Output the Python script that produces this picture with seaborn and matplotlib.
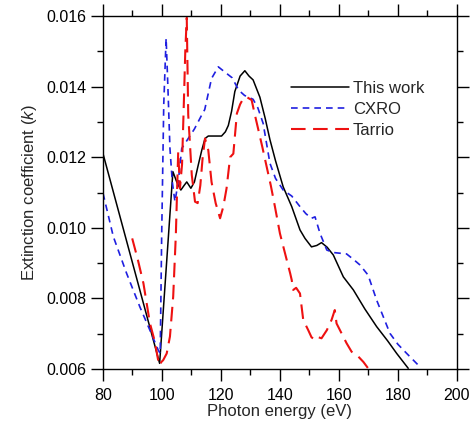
import numpy as np
import pandas as pd
import matplotlib
matplotlib.use("Agg")
import matplotlib.pyplot as plt
from matplotlib.ticker import MultipleLocator, FormatStrFormatter
import seaborn as sns

# Extinction coefficient k versus photon energy (eV)
this_work_e = [80, 99.2, 103.7, 105, 106.4, 107.5, 108.4, 109.8, 111, 112.3, 113.5, 114.6,
               115.7, 118, 120.2, 121.5, 122.5, 123.6, 124.7, 126.5, 128.1, 129.5, 130.9,
               133.2, 135, 136.6, 138.5, 141.1, 144, 146.8, 148.5, 150.7, 152.5, 154.1,
               156, 158.1, 161.5, 164.9, 168.8, 172.8, 176.5, 179.6, 183.5]
this_work_k = [0.0121, 0.00616, 0.01159, 0.0113, 0.01107, 0.0112, 0.0113, 0.01112, 0.0113,
               0.01178, 0.0122, 0.01253, 0.0126, 0.0126, 0.0126, 0.01272, 0.0129, 0.0133,
               0.01386, 0.0143, 0.01445, 0.0143, 0.01419, 0.0137, 0.0131, 0.0125, 0.0119,
               0.01116, 0.0106, 0.00994, 0.0097, 0.00946, 0.0095, 0.00958, 0.00945,
               0.00923, 0.00861, 0.00824, 0.0077, 0.0072, 0.0068, 0.00644, 0.00602]

cxro_e = [80, 83.5, 88, 92.5, 95.9, 98.7, 99.4, 99.9, 100.6, 101.4, 102, 102.7, 103.5,
          104.4, 105.5, 106.7, 108.9, 111, 113.5, 114.5, 116.8, 119.1, 121.5, 123.8, 126,
          128, 130.9, 132.5, 134.3, 136.6, 138.5, 141.1, 144, 146.8, 148.8, 150.7, 151.9,
          153.6, 155.9, 158.1, 162.6, 165, 167.1, 169.9, 172.8, 177.3, 180, 183, 187.5]
cxro_k = [0.01098, 0.00975, 0.00871, 0.00776, 0.0071, 0.00654, 0.00644, 0.0098, 0.0135,
          0.01537, 0.0140, 0.01225, 0.0113, 0.01074, 0.0113, 0.01225, 0.01253, 0.0128,
          0.0132, 0.01335, 0.01423, 0.01456, 0.0144, 0.01425, 0.0139, 0.01375, 0.01364,
          0.0134, 0.01296, 0.01183, 0.0114, 0.01107, 0.0109, 0.0106, 0.0104, 0.01027,
          0.01031, 0.00984, 0.00937, 0.0093, 0.00926, 0.0091, 0.00895, 0.00866, 0.00795,
          0.00701, 0.0067, 0.00644, 0.00606]

tarrio_e = [89.9, 91.8, 93.7, 95.9, 97.5, 98.7, 99.1, 99.8, 100.4, 101.6, 102.7, 103.8,
            104.7, 105.5, 106.1, 106.8, 107.4, 107.9, 108.4, 108.9, 110.1, 111.2, 112.1,
            113.0, 113.8, 114.6, 115.7, 116.8, 118.2, 119.7, 120.8, 121.9, 123.1, 124.2,
            125.4, 126.5, 127.6, 128.8, 130.4, 131.5, 132.7, 134, 135.5, 136.9, 138.3,
            140, 142.3, 143.5, 144, 144.5, 145.5, 146.8, 147.9, 149.6, 150.7, 151.9, 153,
            154.1, 155.9, 157.5, 158.6, 159.2, 160.9, 162.6, 164.3, 166.6, 168.3, 169.9]
tarrio_k = [0.0097, 0.0091, 0.00843, 0.0073, 0.0068, 0.00625, 0.0061, 0.0062, 0.00625,
            0.00644, 0.00692, 0.00805, 0.0098, 0.01216, 0.01112, 0.0118, 0.0135, 0.0150,
            0.01595, 0.0132, 0.0115, 0.01074, 0.0107, 0.0112, 0.0120, 0.01253, 0.0122,
            0.0113, 0.0107, 0.01027, 0.0106, 0.01112, 0.0120, 0.0121, 0.01324, 0.0135,
            0.01367, 0.0137, 0.01362, 0.0132, 0.01277, 0.0123, 0.01173, 0.0112, 0.0106,
            0.00984, 0.00909, 0.0087, 0.00852, 0.00824, 0.0083, 0.00814, 0.00739, 0.0071,
            0.0069, 0.00682, 0.0069, 0.00687, 0.0071, 0.00739, 0.00767, 0.00729, 0.00701,
            0.00673, 0.00649, 0.00635, 0.0062, 0.00602]

series_names = ["This work", "CXRO", "Tarrio"]

sns.set_style("ticks")
plt.rcParams["font.family"] = ["Liberation Sans", "DejaVu Sans"]
plt.rcParams["mathtext.fontset"] = "custom"
plt.rcParams["mathtext.it"] = "Liberation Sans:italic"
plt.rcParams["mathtext.rm"] = "Liberation Sans"

fig = plt.figure(figsize=(4.71, 4.26), dpi=100)
ax = fig.add_axes([0.2187, 0.1338, 0.970 - 0.2187, 0.9624 - 0.1338])

frames = [
    pd.DataFrame({"E": this_work_e, "k": this_work_k, "src": series_names[0]}),
    pd.DataFrame({"E": cxro_e, "k": cxro_k, "src": series_names[1]}),
    pd.DataFrame({"E": tarrio_e, "k": tarrio_k, "src": series_names[2]}),
]
styles = [
    dict(color="black", lw=1.1, dashes=None),
    dict(color="#1f1fe0", lw=1.2, dashes=(4.0, 3.0)),
    dict(color="#ee1111", lw=1.5, dashes=(7.0, 3.6)),
]
for df, st in zip(frames, styles):
    sns.lineplot(data=df, x="E", y="k", ax=ax, color=st["color"], lw=st["lw"],
                 label=df["src"].iloc[0], sort=False, estimator=None)
    if st["dashes"] is not None:
        ax.lines[-1].set_dashes(st["dashes"])

ax.set_xlim(80, 200)
ax.set_ylim(0.006, 0.016)
ax.xaxis.set_major_locator(MultipleLocator(20))
ax.xaxis.set_minor_locator(MultipleLocator(10))
ax.yaxis.set_major_locator(MultipleLocator(0.002))
ax.yaxis.set_minor_locator(MultipleLocator(0.001))
ax.yaxis.set_major_formatter(FormatStrFormatter("%.3f"))

for s in ax.spines.values():
    s.set_visible(True)
    s.set_linewidth(1.0)
    s.set_color("black")
ax.tick_params(which="both", direction="out", top=True, right=True,
               labeltop=False, labelright=False, color="black", width=1.0,
               labelsize=11.5, labelcolor="black")
ax.tick_params(which="major", length=8.5, pad=3.5)
ax.tick_params(axis="x", which="major", pad=5)
ax.tick_params(which="minor", length=4)

ax.set_xlabel("Photon energy (eV)", fontsize=12, labelpad=1)
ax.set_ylabel("Extinction coefficient ($k$)", fontsize=12, labelpad=5)

leg = ax.legend(loc="upper left", bbox_to_anchor=(0.53, 0.815), frameon=False,
                fontsize=12, handlelength=3.5, handletextpad=0.25,
                labelspacing=0.35, borderaxespad=0, borderpad=0)

fig.savefig("out.png", dpi=100)
